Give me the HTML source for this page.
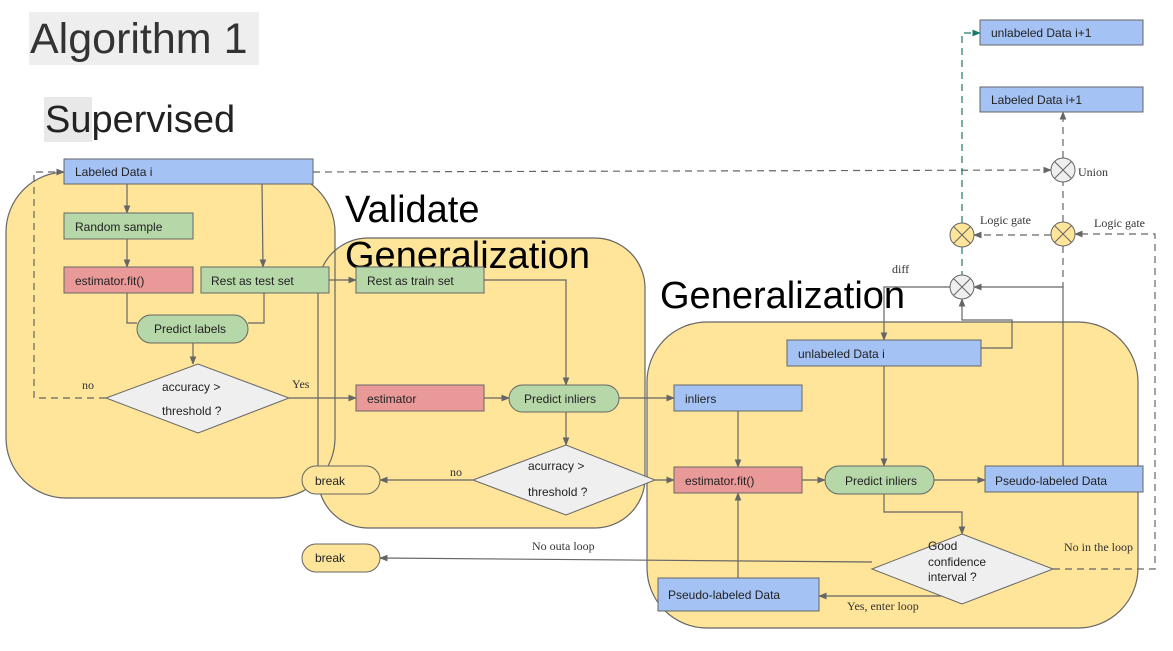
<!DOCTYPE html>
<html><head><meta charset="utf-8"><style>
html,body{margin:0;padding:0;background:#fff}
svg{display:block}
.t{font-family:"Liberation Sans",sans-serif;font-size:12px;fill:#222}
.s{font-family:"Liberation Serif",serif;font-size:12px;fill:#333}
.big{font-family:"Liberation Sans",sans-serif;font-size:38px;fill:#000}
</style></head><body>
<svg width="1173" height="651" viewBox="0 0 1173 651" xmlns="http://www.w3.org/2000/svg">
<defs>
<marker id="a" viewBox="0 0 10 10" refX="9" refY="5" markerWidth="7" markerHeight="7" orient="auto"><path d="M0,1 L10,5 L0,9z" fill="#666"/></marker>
<marker id="g" viewBox="0 0 10 10" refX="9" refY="5" markerWidth="7" markerHeight="7" orient="auto"><path d="M0,1 L10,5 L0,9z" fill="#1a7a6a"/></marker>
</defs>
<rect x="29" y="12" width="230" height="53" fill="#eeeeee"/>
<text x="30" y="53" font-family="Liberation Sans" font-size="43" fill="#333">Algorithm 1</text>
<rect x="44" y="97" width="48" height="45" fill="#e8e8e8"/>
<text x="45" y="132" font-family="Liberation Sans" font-size="38" fill="#222">Supervised</text>

<g fill="#fee599" stroke="none">
<rect x="6" y="172" width="329" height="326" rx="60"/>
<rect x="318" y="238" width="327" height="290" rx="50"/>
<rect x="647" y="322" width="491" height="306" rx="60"/>
</g>
<g fill="none" stroke="#666" stroke-width="1.2">
<rect x="6" y="172" width="329" height="326" rx="60"/>
<rect x="318" y="238" width="327" height="290" rx="50"/>
<rect x="647" y="322" width="491" height="306" rx="60"/>
</g>
<text class="big" x="345" y="222">Validate</text>
<text class="big" x="345" y="268">Generalization</text>
<text class="big" x="660" y="308">Generalization</text>

<g stroke="#666" stroke-width="1.2" fill="none">
<path d="M127 184 V213" marker-end="url(#a)"/>
<path d="M262 184 L263 267" marker-end="url(#a)"/>
<path d="M127 239 V267" marker-end="url(#a)"/>
<path d="M127 293 V323 H137"/>
<path d="M264 293 V323 H248"/>
<path d="M193 343 V364" marker-end="url(#a)"/>
<path d="M289 398 H356" marker-end="url(#a)"/>
<path d="M329 280 H356" marker-end="url(#a)"/>
<path d="M484 280 H566 V385" marker-end="url(#a)"/>
<path d="M484 398 H509" marker-end="url(#a)"/>
<path d="M619 398 H674" marker-end="url(#a)"/>
<path d="M566 412 V445" marker-end="url(#a)"/>
<path d="M473 480 H380" marker-end="url(#a)"/>
<path d="M655 480 H674" marker-end="url(#a)"/>
<path d="M738 411 V467" marker-end="url(#a)"/>
<path d="M802 480 H825" marker-end="url(#a)"/>
<path d="M934 480 H985" marker-end="url(#a)"/>
<path d="M884 366 V466" marker-end="url(#a)"/>
<path d="M884 494 V512 H962 V534" marker-end="url(#a)"/>
<path d="M962 596 H819" marker-end="url(#a)"/>
<path d="M738 588 V493" marker-end="url(#a)"/>
<path d="M872 562 L380 558" marker-end="url(#a)"/>
<path d="M1063 466 V287 H974" marker-end="url(#a)"/>
<path d="M950 287 H884 V340" marker-end="url(#a)"/>
<path d="M981 348 H1012 V320 H962 V299" marker-end="url(#a)"/>
</g>
<g stroke="#666" stroke-width="1.2" fill="none" stroke-dasharray="7,5">
<path d="M106 398 H34 V172 H64" marker-end="url(#a)"/>
<path d="M313 172 L1051 170" marker-end="url(#a)"/>
<path d="M1063 158 V112" marker-end="url(#a)"/>
<path d="M1063 222 V182"/>
<path d="M1063 246 V287"/>
<path d="M1053 569 H1155 V234 H1075" marker-end="url(#a)"/>
<path d="M1051 235 H974" marker-end="url(#a)"/>
</g>
<g stroke="#1a7a6a" stroke-width="1.2" fill="none" stroke-dasharray="7,5">
<path d="M962 223 V33 H980" marker-end="url(#g)"/>
<path d="M962 247 V275"/>
</g>

<g stroke="#666" stroke-width="1">
<rect x="64" y="159" width="249" height="25" fill="#a4c2f4"/>
<rect x="64" y="213" width="129" height="26" fill="#b6d7a8"/>
<rect x="64" y="267" width="129" height="26" fill="#ea9999"/>
<rect x="201" y="267" width="128" height="26" fill="#b6d7a8"/>
<rect x="137" y="315" width="111" height="28" rx="14" fill="#b6d7a8"/>
<path d="M106 398 L198 364 L289 398 L198 433z" fill="#efefef"/>
<rect x="356" y="267" width="128" height="26" fill="#b6d7a8"/>
<rect x="356" y="385" width="128" height="26" fill="#ea9999"/>
<rect x="509" y="385" width="110" height="27" rx="13.5" fill="#b6d7a8"/>
<path d="M473 480 L566 445 L655 480 L566 515z" fill="#efefef"/>
<rect x="302" y="466" width="78" height="28" rx="14" fill="#fee599"/>
<rect x="302" y="544" width="78" height="28" rx="14" fill="#fee599"/>
<rect x="674" y="385" width="128" height="26" fill="#a4c2f4"/>
<rect x="674" y="467" width="128" height="26" fill="#ea9999"/>
<rect x="825" y="466" width="109" height="28" rx="14" fill="#b6d7a8"/>
<rect x="985" y="466" width="158" height="26" fill="#a4c2f4"/>
<rect x="787" y="340" width="194" height="26" fill="#a4c2f4"/>
<path d="M872 569 L962 534 L1053 569 L962 604z" fill="#efefef"/>
<rect x="658" y="578" width="161" height="33" fill="#a4c2f4"/>
<rect x="980" y="20" width="163" height="25" fill="#a4c2f4"/>
<rect x="980" y="87" width="163" height="25" fill="#a4c2f4"/>
</g>
<g stroke="#666" stroke-width="1">
<circle cx="962" cy="287" r="12" fill="#efefef"/>
<circle cx="962" cy="235" r="12" fill="#fee599"/>
<circle cx="1063" cy="234" r="12" fill="#fee599"/>
<circle cx="1063" cy="170" r="12" fill="#efefef"/>
<path d="M953.5 278.5 L970.5 295.5 M970.5 278.5 L953.5 295.5 M953.5 226.5 L970.5 243.5 M970.5 226.5 L953.5 243.5 M1054.5 225.5 L1071.5 242.5 M1071.5 225.5 L1054.5 242.5 M1054.5 161.5 L1071.5 178.5 M1071.5 161.5 L1054.5 178.5"/>
</g>

<text class="t" x="75" y="176">Labeled Data i</text>
<text class="t" x="75" y="231">Random sample</text>
<text class="t" x="75" y="285">estimator.fit()</text>
<text class="t" x="211" y="285">Rest as test set</text>
<text class="t" x="154" y="333">Predict labels</text>
<text class="t" x="162" y="391">accuracy &gt;</text>
<text class="t" x="162" y="415">threshold  ?</text>
<text class="t" x="367" y="285">Rest as train set</text>
<text class="t" x="367" y="403">estimator</text>
<text class="t" x="524" y="403">Predict inliers</text>
<text class="t" x="528" y="470">acurracy &gt;</text>
<text class="t" x="528" y="496">threshold  ?</text>
<text class="t" x="315" y="485">break</text>
<text class="t" x="315" y="562">break</text>
<text class="t" x="685" y="403">inliers</text>
<text class="t" x="685" y="485">estimator.fit()</text>
<text class="t" x="845" y="485">Predict inliers</text>
<text class="t" x="995" y="485">Pseudo-labeled Data</text>
<text class="t" x="798" y="358">unlabeled Data  i</text>
<text class="t" x="928" y="550">Good</text>
<text class="t" x="928" y="566">confidence</text>
<text class="t" x="928" y="581">interval ?</text>
<text class="t" x="668" y="599">Pseudo-labeled Data</text>
<text class="t" x="991" y="37">unlabeled Data i+1</text>
<text class="t" x="991" y="104">Labeled Data i+1</text>
<text class="s" x="82" y="389">no</text>
<text class="s" x="292" y="388">Yes</text>
<text class="s" x="450" y="476">no</text>
<text class="s" x="532" y="550">No outa loop</text>
<text class="s" x="1064" y="551">No in the loop</text>
<text class="s" x="847" y="610">Yes, enter loop</text>
<text class="s" x="892" y="273">diff</text>
<text class="s" x="980" y="224">Logic gate</text>
<text class="s" x="1094" y="227">Logic gate</text>
<text class="s" x="1078" y="176">Union</text>
</svg>
</body></html>
